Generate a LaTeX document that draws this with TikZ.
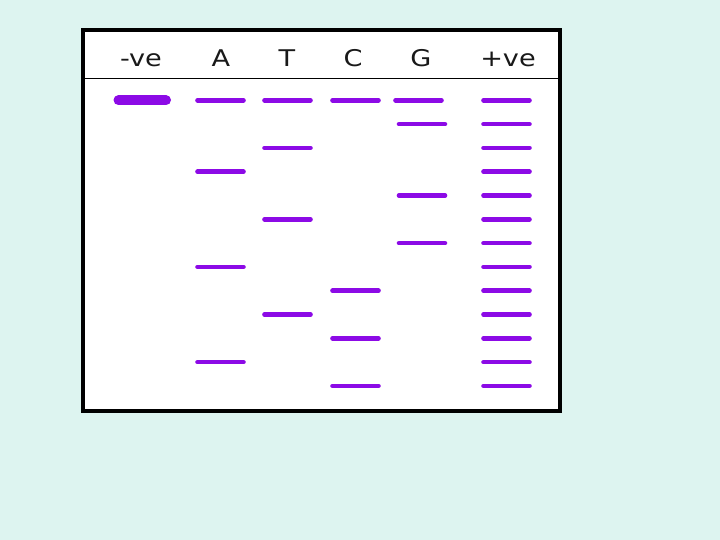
\documentclass[tikz,border=0pt]{standalone}
\usepackage{fontspec}
\setmainfont{DejaVu Sans}[FakeStretch=1.18]
\definecolor{bgcol}{RGB}{221,244,240}
\definecolor{band}{RGB}{140,10,230}
\definecolor{txt}{RGB}{25,25,25}
\begin{document}
\begin{tikzpicture}[x=1pt,y=-1pt,
  lanelabel/.style={anchor=base,text=txt,font=\fontsize{23}{25}\selectfont,inner sep=0pt},
  bandline/.style={draw=band,line width=4.6pt,line cap=round},
  wideband/.style={draw=band,line width=10pt,line cap=round}]
\fill[bgcol] (0,0) rectangle (720,540);
\useasboundingbox (0,0) rectangle (720,540);
\fill[white] (83,30) rectangle (560,411);
\draw[line width=1pt] (83,79) -- (560,79);
\draw[line width=3.5pt] (83,30) rectangle (560,411);
% labels
\node[lanelabel] (lneg) at (141,67) {-ve};
\node[lanelabel] (lA) at (221,67) {A};
\node[lanelabel] (lT) at (287,67) {T};
\node[lanelabel] (lC) at (353,67) {C};
\node[lanelabel] (lG) at (421,67) {G};
\node[lanelabel] (lpos) at (508,67) {+ve};
% -ve
\draw[wideband] (118.5,100.3) -- (166,100.3);
% row 0
\draw[bandline] (197.5,100.3) -- (243.5,100.3);
\draw[bandline] (264.5,100.3) -- (310.5,100.3);
\draw[bandline] (332.5,100.3) -- (378.5,100.3);
\draw[bandline] (395.5,100.3) -- (441.5,100.3);
% +ve ladder
\foreach \i in {0,...,12}
  \draw[bandline] (483.5,{100.3+23.8*\i}) -- (529.5,{100.3+23.8*\i});
% A
\foreach \i in {3,7,11}
  \draw[bandline] (197.5,{100.3+23.8*\i}) -- (243.5,{100.3+23.8*\i});
% T
\foreach \i in {2,5,9}
  \draw[bandline] (264.5,{100.3+23.8*\i}) -- (310.5,{100.3+23.8*\i});
% C
\foreach \i in {8,10,12}
  \draw[bandline] (332.5,{100.3+23.8*\i}) -- (378.5,{100.3+23.8*\i});
% G
\foreach \i in {1,4,6}
  \draw[bandline] (399,{100.3+23.8*\i}) -- (445,{100.3+23.8*\i});
\end{tikzpicture}
\end{document}
